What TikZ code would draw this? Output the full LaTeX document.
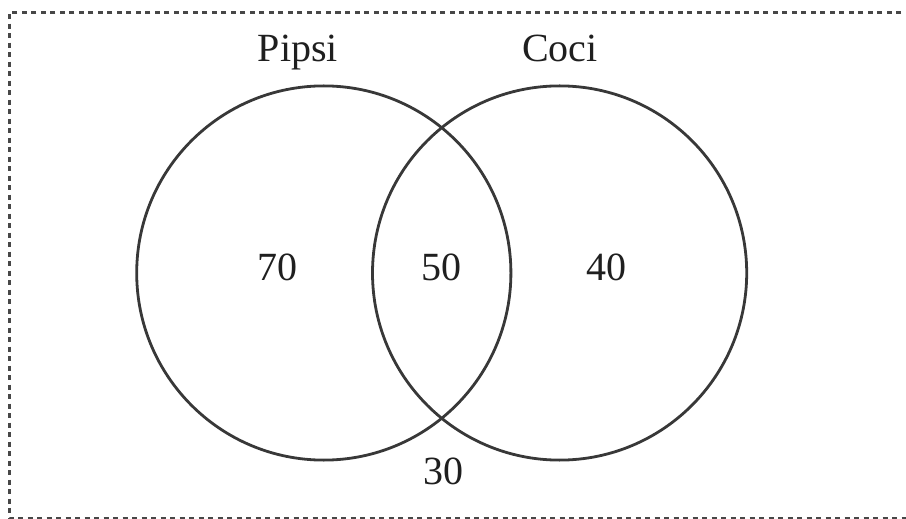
\documentclass[tikz,border=0pt]{standalone}
\usepackage{fontspec}
\setmainfont{Liberation Serif}
\begin{document}
\begin{tikzpicture}[x=1bp,y=-1bp,
  setcircle/.style={draw=black!78, line width=2.8bp},
  frame/.style={draw=black!72, line width=2.4bp, dash pattern=on 5bp off 4.5bp},
  lbl/.style={anchor=base, inner sep=0pt, font=\fontsize{40bp}{48bp}\selectfont, text=black!88}]
\useasboundingbox (0,0) rectangle (906,519);
\draw[frame] (920,12.5) -- (9.5,12.5) -- (9.5,518.5) -- (920,518.5);
\node[setcircle, circle, minimum size=374.2bp, inner sep=0pt] (P) at (323.8,273) {};
\node[setcircle, circle, minimum size=374.2bp, inner sep=0pt] (C) at (559.6,273) {};
\node[lbl] (tp) at (298,62) {Pipsi};
\node[lbl] (tc) at (560,62) {Coci};
\node[lbl] (a) at (277,281) {70};
\node[lbl] (b) at (441.5,281) {50};
\node[lbl] (c) at (606.5,281) {40};
\node[lbl] (d) at (443.5,484) {30};
\end{tikzpicture}
\end{document}
